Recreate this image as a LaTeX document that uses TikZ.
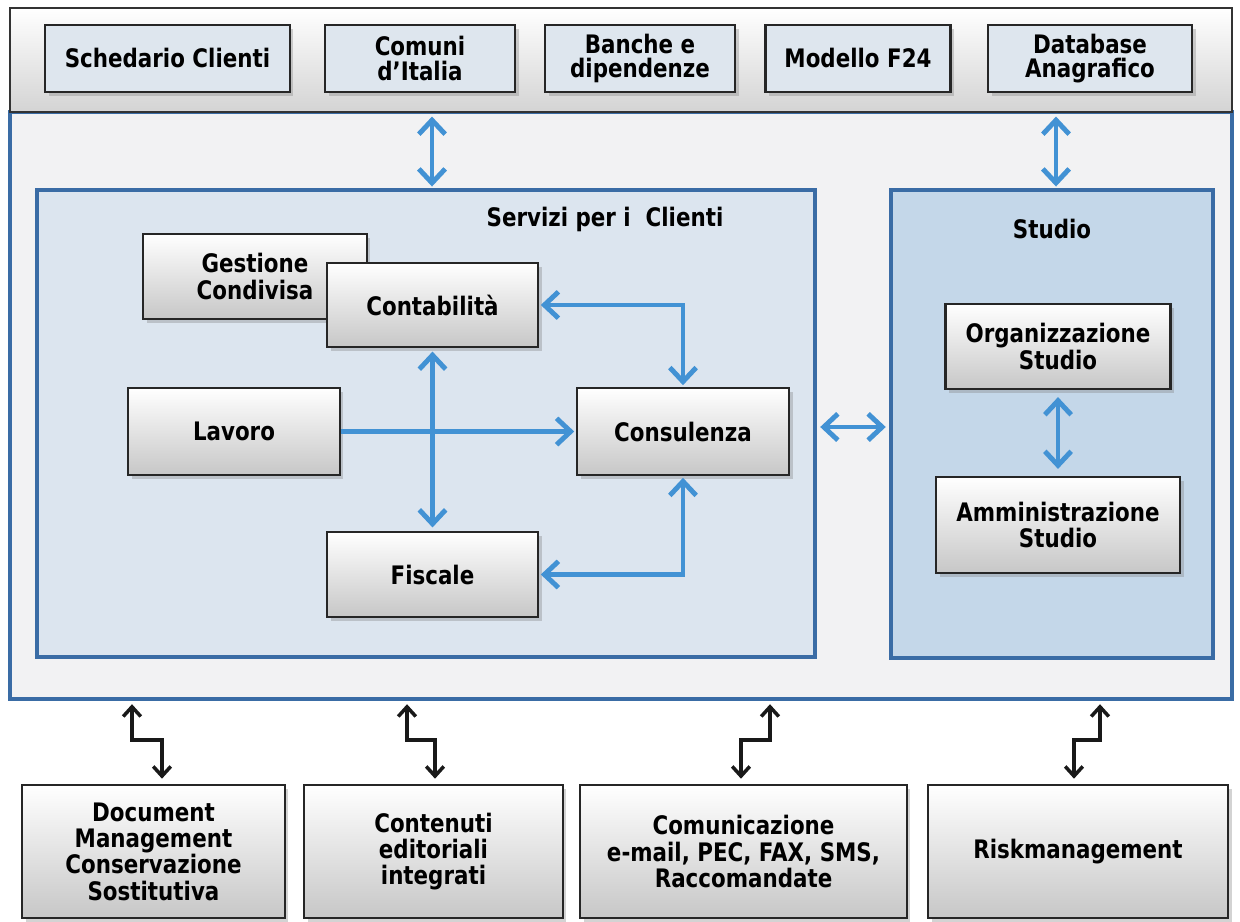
\documentclass[tikz,border=0pt]{standalone}
\usepackage{fontspec}
\setmainfont{DejaVu Sans}[FakeStretch=0.84]
\usetikzlibrary{arrows.meta,shadows}
\definecolor{arrowblue}{RGB}{66,146,212}
\definecolor{frameblue}{RGB}{58,108,165}
\definecolor{framebg}{RGB}{242,242,243}
\definecolor{servbg}{RGB}{220,229,239}
\definecolor{studbg}{RGB}{196,215,233}
\definecolor{topbox}{RGB}{222,230,238}
\tikzset{
  myb/.tip={Straight Barb[length=8pt,width=15pt]},
  kb/.tip={Straight Barb[length=5.5pt,width=10pt]},
  txt/.style={font=\bfseries\fontsize{14.5}{15}\selectfont, align=center},
  boxbase/.style={txt, draw=black!85, line width=1.2pt, inner sep=2pt,
    drop shadow={shadow xshift=2pt, shadow yshift=-2pt, opacity=0.35}},
  gbox/.style={boxbase, top color=white, bottom color=black!22},
  tbox/.style={boxbase, fill=topbox, font=\bfseries\fontsize{14.5}{14}\selectfont},
  barrow/.style={draw=arrowblue, line width=2.8pt},
  karrow/.style={draw=black!90, line width=2pt, kb-kb},
}
\begin{document}
\begin{tikzpicture}[x=0.02cm,y=-0.02cm]
\useasboundingbox (0,0) rectangle (1240,922);
% main frame and top bar
\node[draw=frameblue, line width=2pt, fill=framebg, minimum width=24.44cm, minimum height=11.74cm, inner sep=0pt] (mainf) at (621,405.5) {};
\node[draw=black!80, line width=1.2pt, top color=white, bottom color=black!17, minimum width=24.44cm, minimum height=2.08cm, inner sep=0pt] (topbar) at (621,60) {};
% top boxes
\node[tbox, minimum width=4.9cm, minimum height=1.34cm] (sched) at (167.5,58.5) {Schedario Clienti};
\node[tbox, minimum width=3.8cm, minimum height=1.34cm] (comuni) at (420,58.5) {Comuni\\d’Italia};
\node[tbox, minimum width=3.8cm, minimum height=1.34cm] (banche) at (640,58.5) {Banche e\\dipendenze};
\node[tbox, minimum width=3.7cm, minimum height=1.34cm] (f24) at (858,58.5) {Modello F24};
\node[tbox, minimum width=4.08cm, minimum height=1.34cm] (db) at (1090,58.5) {Database\\Anagrafico};
% containers
\node[draw=frameblue, line width=2pt, fill=servbg, minimum width=15.56cm, minimum height=9.34cm, inner sep=0pt] (servizi) at (426,423.5) {};
\node[draw=frameblue, line width=2pt, fill=studbg, minimum width=6.44cm, minimum height=9.36cm, inner sep=0pt] (studio) at (1052,424) {};
\node[txt] (servt) at (605,219) {Servizi per i\ \ Clienti};
\node[txt] (studt) at (1052,229) {Studio};
% inner boxes
\node[gbox, minimum width=4.48cm, minimum height=1.7cm] (gest) at (255,276.5) {Gestione\\Condivisa};
\node[gbox, minimum width=4.22cm, minimum height=1.68cm] (conta) at (432.5,305) {Contabilità};
\node[gbox, minimum width=4.24cm, minimum height=1.74cm] (lavoro) at (234,431.5) {Lavoro};
\node[gbox, minimum width=4.24cm, minimum height=1.74cm] (consul) at (683,431.5) {Consulenza};
\node[gbox, minimum width=4.22cm, minimum height=1.7cm] (fiscale) at (432.5,574.5) {Fiscale};
\node[gbox, minimum width=4.5cm, minimum height=1.7cm] (org) at (1058,346.5) {Organizzazione\\Studio};
\node[gbox, minimum width=4.88cm, minimum height=1.92cm] (amm) at (1058,525) {Amministrazione\\Studio};
% bottom boxes
\node[gbox, minimum width=5.26cm, minimum height=2.66cm] (doc) at (153.5,851.5) {Document\\Management\\Conservazione\\Sostitutiva};
\node[gbox, minimum width=5.18cm, minimum height=2.66cm] (cont) at (433.5,851.5) {Contenuti\\editoriali\\integrati};
\node[gbox, minimum width=6.54cm, minimum height=2.66cm] (comm) at (743.5,851.5) {Comunicazione\\e-mail, PEC, FAX, SMS,\\Raccomandate};
\node[gbox, minimum width=6.0cm, minimum height=2.66cm] (risk) at (1078,851.5) {Riskmanagement};
% blue connectors
\coordinate (a1) at (432,0);
\coordinate (a2) at (1056,0);
\coordinate (cx) at (683,0);
\draw[barrow, myb-myb, shorten <=2pt, shorten >=1pt] (topbar.south -| a1) -- (servizi.north -| a1);
\draw[barrow, myb-myb, shorten <=2pt, shorten >=1pt] (topbar.south -| a2) -- (studio.north -| a2);
\draw[barrow, myb-myb, shorten <=1pt, shorten >=1pt] (conta.east) -- (conta.east -| cx) -- (consul.north);
\draw[barrow, myb-myb, shorten <=1pt, shorten >=1pt] (fiscale.east) -- (fiscale.east -| cx) -- (consul.south);
\draw[barrow, myb-myb, shorten <=2pt, shorten >=2pt] (conta.south) -- (fiscale.north);
\draw[barrow, -myb, shorten >=1pt] (lavoro.east) -- (consul.west);
\draw[barrow, myb-myb, shorten <=2pt, shorten >=2pt] (servizi.east |- 0,427) -- (studio.west |- 0,427);
\draw[barrow, myb-myb, shorten <=4pt, shorten >=4pt] (org.south) -- (amm.north);
% black zigzag connectors
\coordinate (z1a) at (132,740); \coordinate (z1b) at (162,740);
\coordinate (z2a) at (407,740); \coordinate (z2b) at (435,740);
\coordinate (z3a) at (770,740); \coordinate (z3b) at (741,740);
\coordinate (z4a) at (1100,740); \coordinate (z4b) at (1074,740);
\draw[karrow, shorten <=2pt, shorten >=3pt] (mainf.south -| z1a) -- (z1a) -- (z1b) -- (doc.north -| z1b);
\draw[karrow, shorten <=2pt, shorten >=3pt] (mainf.south -| z2a) -- (z2a) -- (z2b) -- (cont.north -| z2b);
\draw[karrow, shorten <=2pt, shorten >=3pt] (mainf.south -| z3a) -- (z3a) -- (z3b) -- (comm.north -| z3b);
\draw[karrow, shorten <=2pt, shorten >=3pt] (mainf.south -| z4a) -- (z4a) -- (z4b) -- (risk.north -| z4b);
\end{tikzpicture}
\end{document}
